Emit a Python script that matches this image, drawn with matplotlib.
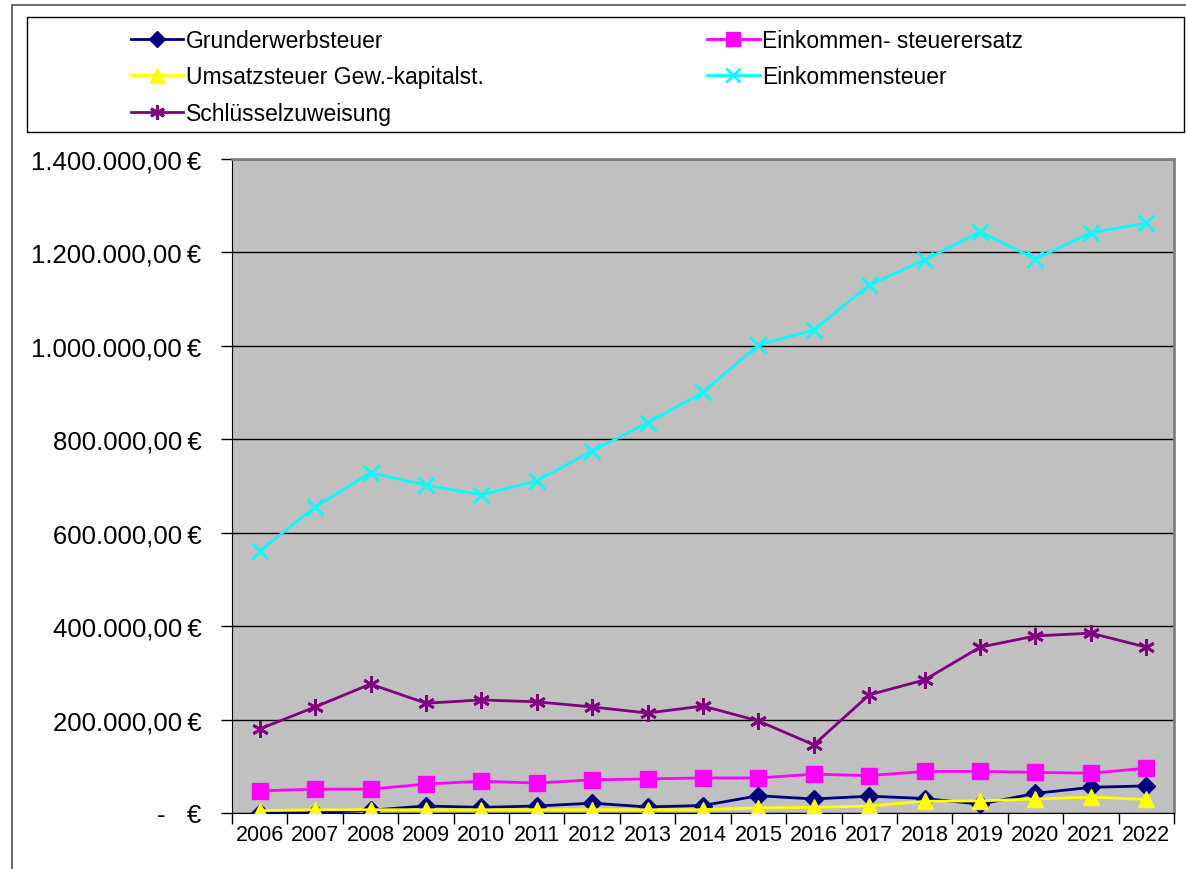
import matplotlib
matplotlib.use("Agg")
import matplotlib.pyplot as plt
from matplotlib.patches import Rectangle
from matplotlib.ticker import FuncFormatter, FixedLocator

plt.rcParams['font.family'] = ['Liberation Sans', 'DejaVu Sans']

years = list(range(2006, 2023))
labels = [str(y) for y in years]

grunderwerb = [1000, 0, 6000, 15000, 12000, 15000, 21000, 13000, 16000,
               37000, 30000, 36000, 31000, 19000, 42000, 55000, 58000]
est_ersatz = [47500, 51000, 51000, 62000, 68000, 64000, 71000, 73000, 75000,
              75000, 83000, 80000, 89000, 89000, 87000, 85000, 96000]
umsatz_gew = [5000, 7000, 7000, 7000, 7000, 7000, 7000, 7000, 7000,
              11000, 12000, 15000, 25000, 26000, 30000, 34000, 29000]
einkommen = [561000, 655000, 728000, 702000, 681000, 711000, 775000, 835000, 901000,
             1002000, 1034000, 1130000, 1184000, 1244000, 1186000, 1242000, 1263000]
schluessel = [180000, 227000, 276000, 235000, 242000, 238000, 227000, 214000, 229000,
              197000, 146000, 253000, 285000, 355000, 379000, 385000, 355000]

W, H = 1186, 870
fig = plt.figure(figsize=(W / 100, H / 100), dpi=100)

# outer chart frame and legend box
fig.add_artist(Rectangle((12 / W, -0.01), 1.2, 1 - 6 / H + 0.01, transform=fig.transFigure,
                         fill=False, edgecolor='#555555', lw=1.2))
fig.add_artist(Rectangle((27 / W, 1 - 133 / H), (1184 - 27) / W, (133 - 18) / H,
                         transform=fig.transFigure, fill=False, edgecolor='black', lw=1))

ax = fig.add_axes([232 / W, 1 - 814 / H, (1174 - 232) / W, (814 - 160) / H])
ax.set_facecolor('#C0C0C0')

x = list(range(len(years)))
lw = 2
ax.plot(x, grunderwerb, color='#000080', lw=lw, marker='D', ms=9, label='Grunderwerbsteuer', zorder=3)
ax.plot(x, umsatz_gew, color='#FFFF00', lw=lw, marker='^', ms=12, label='Umsatzsteuer Gew.-kapitalst.', zorder=4)
ax.plot(x, schluessel, color='#800080', lw=lw, marker=(6, 2, 0), ms=12, mew=2, label='Schlüsselzuweisung', zorder=3)
ax.plot(x, est_ersatz, color='#FF00FF', lw=lw, marker='s', ms=11, label='Einkommen- steuerersatz', zorder=3)
ax.plot(x, einkommen, color='#00FFFF', lw=lw, marker='x', ms=11, mew=2, label='Einkommensteuer', zorder=3)

ax.set_xlim(-0.5, len(years) - 0.5)
ax.set_ylim(0, 1400000)
ax.set_yticks(range(0, 1400001, 200000))
ax.yaxis.grid(True, color='black', lw=1)
ax.set_axisbelow(True)


def euro(v, pos):
    if v == 0:
        return '-   €'
    s = f'{v:,.2f}'.replace(',', 'X').replace('.', ',').replace('X', '.')
    return s + '\u2009€'


ax.yaxis.set_major_formatter(FuncFormatter(euro))
ax.set_xticks(x)
ax.set_xticklabels(labels)
ax.xaxis.set_minor_locator(FixedLocator([i - 0.5 for i in range(len(years) + 1)]))
ax.tick_params(axis='x', which='major', length=0, labelsize=15.5, pad=8)
ax.tick_params(axis='x', which='minor', length=8, width=1, direction='out')
ax.tick_params(axis='y', length=8, width=1, labelsize=18.5, pad=14)

for s in ['top', 'right']:
    ax.spines[s].set_color('#808080')
    ax.spines[s].set_linewidth(2)
ax.spines['left'].set_color('black')
ax.spines['bottom'].set_color('black')

handles, labs = ax.get_legend_handles_labels()
fig.legend(handles, labs, loc='upper left', bbox_to_anchor=(110 / W, 1 - 9 / H), ncol=2,
           frameon=False, fontsize=16.5, handlelength=2.3, handletextpad=0.1,
           columnspacing=9.75, labelspacing=0.6, markerscale=0.9)

fig.savefig('out.png', dpi=100)
